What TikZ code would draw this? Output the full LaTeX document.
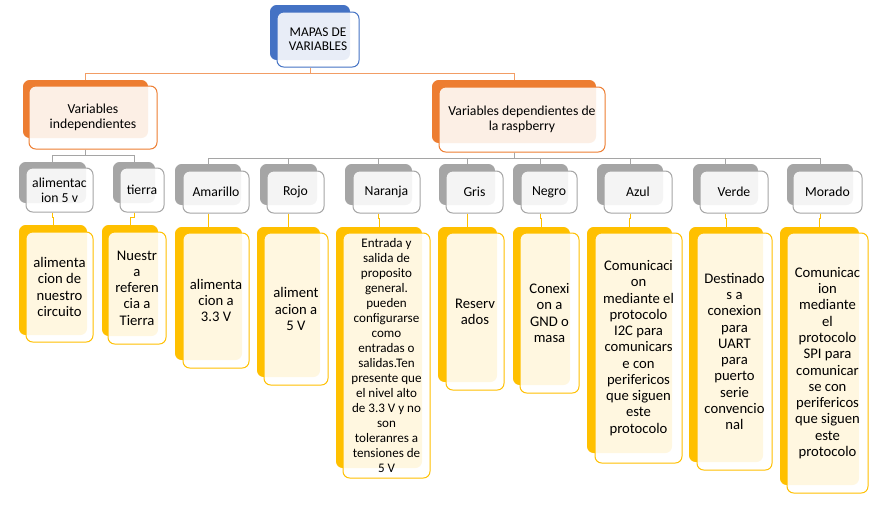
\documentclass[tikz,border=0pt]{standalone}
\usepackage{fontspec}
\setmainfont{Carlito}
\usetikzlibrary{backgrounds}
\definecolor{hblue}{HTML}{4472C4}
\definecolor{horange}{HTML}{ED7D31}
\definecolor{hgray}{HTML}{A5A5A5}
\definecolor{hyellow}{HTML}{FFC000}
\tikzset{
  sz/.style 2 args ={minimum width=#1*0.75pt, minimum height=#2*0.75pt},
  back/.style      ={fill=#1, rounded corners=5pt, inner sep=0pt},
  front/.style     ={draw=#1, line width=0.75pt, fill=white, fill opacity=0.88,
                     text opacity=1, rounded corners=5pt, inner sep=0pt, align=center,
                     font=\fontsize{10.3}{11.25}\selectfont},
  leaf/.style      ={front=hyellow, font=\fontsize{11}{12.2}\selectfont},
  conO/.style      ={draw=horange!75, line width=0.75pt},
  conG/.style      ={draw=hgray, line width=0.75pt},
  conY/.style      ={draw=hyellow, line width=0.75pt},
}

\begin{document}
\begin{tikzpicture}[x=0.75pt, y=-0.75pt]
  \useasboundingbox[fill=white] (0,0) rectangle (874,508);

  % raiz
  \node[back=hblue, sz={80}{55}]   (rootb) at (310,32.5) {};
  \node[front=hblue, sz={82}{55}, font=\fontsize{10}{10.7}\selectfont]
        (root) at (318,39.5) {MAPAS DE\\VARIABLES};

  % nivel 1
  \node[back=horange, sz={125}{58}]  (indb) at (85.5,109) {};
  \node[front=horange, sz={128}{63}] (ind)  at (93,117.5) {Variables\\independientes};
  \node[back=horange, sz={164}{63}]  (depb) at (514,111.5) {};
  \node[front=horange, sz={166}{65}] (dep)  at (522,119.5) {Variables dependientes de\\la raspberry};

  % nivel 2
  \node[back=hgray, sz={67}{41}]  (alib) at (52.5,182.5) {};
  \node[front=hgray, sz={67}{44}] (ali)  at (59.5,190) {alimentac\\ion 5 v};
  \node[back=hgray, sz={42}{41}]  (tieb) at (134,182.5) {};
  \node[front=hgray, sz={44}{44}] (tie)  at (142,190) {tierra};
  \node[back=hgray, sz={66}{41}]  (amab) at (208,184.5) {};
  \node[front=hgray, sz={66}{42}] (ama)  at (216,192) {Amarillo};
  \node[back=hgray, sz={57}{41}]  (rojb) at (288.5,184.5) {};
  \node[front=hgray, sz={57}{42}] (roj)  at (295.5,192) {Rojo};
  \node[back=hgray, sz={67}{41}]  (narb) at (378.5,184.5) {};
  \node[front=hgray, sz={67}{42}] (nar)  at (386.5,192) {Naranja};
  \node[back=hgray, sz={56}{41}]  (grib) at (467,184.5) {};
  \node[front=hgray, sz={57}{42}] (gri)  at (474.5,192) {Gris};
  \node[back=hgray, sz={55}{41}]  (negb) at (540.5,184.5) {};
  \node[front=hgray, sz={56}{42}] (neg)  at (549,192) {Negro};
  \node[back=hgray, sz={66}{41}]  (azub) at (630,184.5) {};
  \node[front=hgray, sz={68}{42}] (azu)  at (638,192) {Azul};
  \node[back=hgray, sz={65}{41}]  (verb) at (725.5,184.5) {};
  \node[front=hgray, sz={68}{42}] (ver)  at (734,192) {Verde};
  \node[back=hgray, sz={66}{41}]  (morb) at (820,184.5) {};
  \node[front=hgray, sz={69}{42}] (mor)  at (827.5,192) {Morado};

  % hojas
  \node[back=hyellow, sz={68}{110}] (aliLb) at (53,280) {};
  \node[leaf, sz={67}{110}]  (aliL) at (59.5,287) {alimenta\\cion de\\nuestro\\circuito};
  \node[back=hyellow, sz={56}{111}] (tieLb) at (130,280.5) {};
  \node[leaf, sz={58}{112}]  (tieL) at (137,288) {Nuestr\\a\\referen\\cia a\\Tierra};
  \node[back=hyellow, sz={67}{133}] (amaLb) at (208.5,293.5) {};
  \node[leaf, sz={66}{135}]  (amaL) at (216,300.5) {alimenta\\cion a\\3.3 V};
  \node[back=hyellow, sz={63}{150}] (rojLb) at (288.5,302) {};
  \node[leaf, sz={64}{152}]  (rojL) at (296,309) {aliment\\acion a\\5 V};
  \node[back=hyellow, sz={86}{241}] (narLb) at (379,347.5) {};
  \node[leaf, sz={87}{245}, font=\fontsize{9.8}{11.25}\selectfont] (narL) at (386.5,355.5)
        {Entrada y\\salida de\\proposito\\general.\\pueden\\configurarse\\como\\entradas o\\salidas.Ten\\presente que\\el nivel alto\\de 3.3 V y no\\son\\toleranres a\\tensiones de\\5 V};
  \node[back=hyellow, sz={59}{155}] (griLb) at (467.5,304.5) {};
  \node[leaf, sz={58}{157}]  (griL) at (475,311.5) {Reserv\\ados};
  \node[back=hyellow, sz={57}{158}] (negLb) at (541.5,306) {};
  \node[leaf, sz={59}{160}]  (negL) at (549.5,313) {Conexi\\on a\\GND o\\masa};
  \node[back=hyellow, sz={85}{226}] (azuLb) at (629.5,340) {};
  \node[leaf, sz={87}{230}]  (azuL) at (638.5,348)
        {Comunicaci\\on\\mediante el\\protocolo\\I2C para\\comunicars\\e con\\perifericos\\que siguen\\este\\protocolo};
  \node[back=hyellow, sz={74}{235}] (verLb) at (726,344.5) {};
  \node[leaf, sz={75}{237}]  (verL) at (734.5,351.5)
        {Destinado\\s a\\conexion\\para\\UART\\para\\puerto\\serie\\convencio\\nal};
  \node[back=hyellow, sz={79}{258}] (morLb) at (819.5,356) {};
  \node[leaf, sz={81}{260}]  (morL) at (827.5,363)
        {Comunicac\\ion\\mediante\\el\\protocolo\\SPI para\\comunicar\\se con\\perifericos\\que siguen\\este\\protocolo};

  % conectores
  \draw[conO] (rootb.center |- root.south) -- ++(0,6) -| (indb.north);
  \draw[conO] (rootb.center |- root.south) -- ++(0,6) -| (depb.north);
  \draw[conG] (indb.center |- ind.south) -- ++(0,6) -| (alib.north);
  \draw[conG] (indb.center |- ind.south) -- ++(0,6) -| (tieb.north);
  \draw[conG] (depb.center |- dep.south) -- ++(0,6) -| (amab.north);
  \draw[conG] (depb.center |- dep.south) -- ++(0,6) -| (rojb.north);
  \draw[conG] (depb.center |- dep.south) -- ++(0,6) -| (narb.north);
  \draw[conG] (depb.center |- dep.south) -- ++(0,6) -| (grib.north);
  \draw[conG] (depb.center |- dep.south) -- ++(0,6) -| (negb.north);
  \draw[conG] (depb.center |- dep.south) -- ++(0,6) -| (azub.north);
  \draw[conG] (depb.center |- dep.south) -- ++(0,6) -| (verb.north);
  \draw[conG] (depb.center |- dep.south) -- ++(0,6) -| (morb.north);
  \draw[conY] (alib.center |- ali.south) -- ++(0,5) -| (aliLb.north);
  \draw[conY] (tieb.center |- tie.south) -- ++(0,5) -| (tieLb.north);
  \draw[conY] (amab.center |- ama.south) -- ++(0,5) -| (amaLb.north);
  \draw[conY] (rojb.center |- roj.south) -- ++(0,5) -| (rojLb.north);
  \draw[conY] (narb.center |- nar.south) -- ++(0,5) -| (narLb.north);
  \draw[conY] (grib.center |- gri.south) -- ++(0,5) -| (griLb.north);
  \draw[conY] (negb.center |- neg.south) -- ++(0,5) -| (negLb.north);
  \draw[conY] (azub.center |- azu.south) -- ++(0,5) -| (azuLb.north);
  \draw[conY] (verb.center |- ver.south) -- ++(0,5) -| (verLb.north);
  \draw[conY] (morb.center |- mor.south) -- ++(0,5) -| (morLb.north);
\end{tikzpicture}
\end{document}
